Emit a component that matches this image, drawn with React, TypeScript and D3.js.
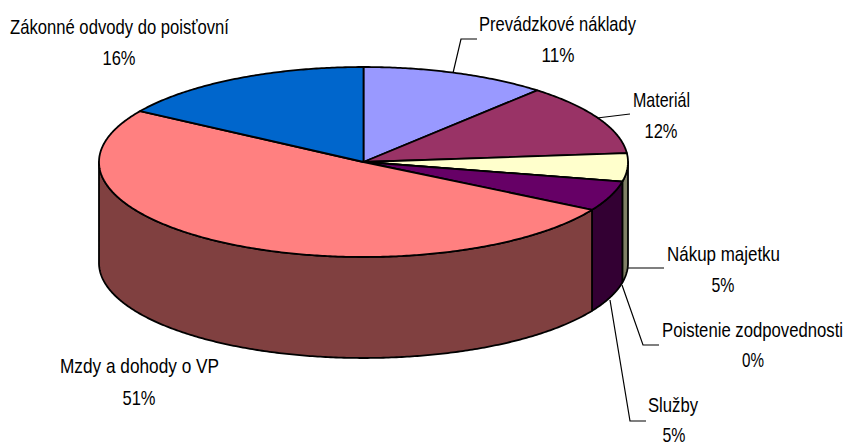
import React from "react";
import * as d3 from "d3";

const categories = ["Prevádzkové náklady", "Materiál", "Nákup majetku", "Poistenie zodpovednosti", "Služby", "Mzdy a dohody o VP", "Zákonné odvody do poisťovní"];
const values = [11.4, 12.1, 4.8, 0, 5.1, 50.6, 16];
const topColors = ["#9999FF", "#993366", "#FFFFCC", "#CCFFFF", "#660066", "#FF8080", "#0066CC"];
const wallColors = ["#4D4D80", "#4D1A33", "#808066", "#668080", "#330033", "#804040", "#003366"];

// label layout: [name x, name width, name baseline, pct centre x, pct baseline]
const labelBoxes = [
  [479, 157, 31, 558, 62],
  [633, 57, 107, 661, 138],
  [667, 113, 261, 723, 292],
  [662, 181, 337, 753, 367],
  [648, 50, 412, 674, 442],
  [60, 159, 373, 139, 405],
  [10, 219, 34, 119, 65],
];
const pctWidths = [33, 33, 23, 22, 23, 33, 33];
const leaders = [
  [[453, 73], [461, 39], [477, 39]],
  [[597, 118], [630, 114]],
  [[628, 268], [664, 268]],
  [[622, 285], [643, 345], [659, 345]],
  [[610, 300], [630, 421], [646, 421]],
  [] as number[][],
  [] as number[][],
];

const W = 846, H = 445;
const cx = 363.5, cy = 162, rx = 264.5, ry = 95, depth = 101;

const px = (a: number) => cx + rx * Math.sin(a);
const py = (a: number, dz = 0) => cy - ry * Math.cos(a) + dz;
const line = d3.line();

function arcPoints(a0: number, a1: number, dz = 0): [number, number][] {
  const n = Math.max(2, Math.ceil(Math.abs(a1 - a0) / 0.01));
  const t = d3.scaleLinear().domain([0, n]).range([a0, a1]);
  return d3.range(n + 1).map((i) => [px(t(i)), py(t(i), dz)] as [number, number]);
}

export default function App() {
  const slices = d3.pie<number>().sort(null).value((d) => d)(values);
  const front0 = Math.PI / 2, front1 = (3 * Math.PI) / 2;
  const stroke = { stroke: "#000", strokeWidth: 1.8, strokeLinejoin: "round" as const };
  return (
    <svg width={W} height={H} style={{ position: "absolute", left: 0, top: 0, display: "block", background: "#fff" }}
      fontFamily="'Liberation Sans', Arial, sans-serif" fontSize={21}>
      {slices.map((s, i) => {
        const a0 = Math.max(s.startAngle, front0), a1 = Math.min(s.endAngle, front1);
        if (a1 <= a0) return null;
        const pts = [...arcPoints(a0, a1), ...arcPoints(a1, a0, depth)];
        return <path key={i} d={line(pts) + "Z"} fill={wallColors[i]} {...stroke} />;
      })}
      {slices.map((s, i) => {
        const pts: [number, number][] = [[cx, cy], ...arcPoints(s.startAngle, s.endAngle)];
        return <path key={i} d={line(pts) + "Z"} fill={topColors[i]} {...stroke} />;
      })}
      {leaders.map((l, i) =>
        l.length ? <path key={i} d={line(l as [number, number][]) ?? ""} fill="none" stroke="#000" strokeWidth={1.2} /> : null
      )}
      {categories.map((c, i) => {
        const [x, w, y, pctX, pctY] = labelBoxes[i];
        return (
          <g key={c} fill="#000">
            <text x={x} y={y} textLength={w} lengthAdjust="spacingAndGlyphs">{c}</text>
            <text x={pctX} y={pctY} textAnchor="middle" textLength={pctWidths[i]} lengthAdjust="spacingAndGlyphs">
              {Math.round(values[i])}%
            </text>
          </g>
        );
      })}
    </svg>
  );
}
